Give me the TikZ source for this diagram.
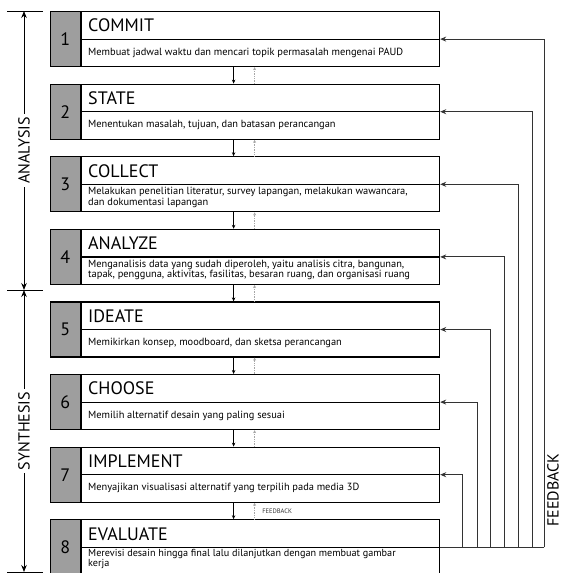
\documentclass[tikz,border=0pt]{standalone}
\usepackage{fontspec}
\setmainfont{PT Sans}
\usetikzlibrary{positioning, arrows.meta}
\tikzset{
  >={Stealth[length=6pt, width=5pt]},
  mainbox/.style={draw, line width=1.2pt, minimum width=358pt, minimum height=55pt, inner sep=0pt, anchor=north west},
  numbox/.style={draw, line width=1.2pt, fill=black!38, minimum width=30pt, minimum height=55pt, inner sep=0pt, font=\fontsize{18}{18}\selectfont},
  title/.style={anchor=west, inner sep=0pt, font=\fontsize{18}{18}\selectfont},
  desc/.style={anchor=west, inner sep=0pt, align=left, font=\fontsize{10.4}{10.5}\selectfont},
  sepline/.style={line width=1.2pt},
  down/.style={-{Stealth[length=4pt, width=3.5pt]}, line width=0.9pt},
  up/.style={-{Stealth[length=3pt, width=3pt]}, gray!70, densely dotted, line width=0.7pt},
  fbline/.style={line width=0.9pt, black!80},
  fbarrow/.style={->, line width=0.9pt, black!80},
  axis/.style={{Stealth[length=7pt, width=5.5pt]}-{Stealth[length=7pt, width=5.5pt]}, line width=0.9pt},
  axislabel/.style={fill=white, rotate=90, inner sep=3pt, font=\fontsize{16}{16}\selectfont},
}
\begin{document}
\begin{tikzpicture}[x=1pt, y=-1pt]
  \useasboundingbox (0,0) rectangle (563,573);

  % boxes
  \node[mainbox] (box1) at (81,11) {};
  \node[mainbox, below=16.4pt of box1] (box2) {};
  \node[mainbox, below=16.4pt of box2] (box3) {};
  \node[mainbox, below=16.4pt of box3] (box4) {};
  \node[mainbox, below=16.4pt of box4] (box5) {};
  \node[mainbox, below=16.4pt of box5] (box6) {};
  \node[mainbox, below=16.4pt of box6] (box7) {};
  \node[mainbox, below=16.4pt of box7] (box8) {};

  \node[numbox, left=0pt of box1] (num1) {1};
  \node[numbox, left=0pt of box2] (num2) {2};
  \node[numbox, left=0pt of box3] (num3) {3};
  \node[numbox, left=0pt of box4] (num4) {4};
  \node[numbox, left=0pt of box5] (num5) {5};
  \node[numbox, left=0pt of box6] (num6) {6};
  \node[numbox, left=0pt of box7] (num7) {7};
  \node[numbox, left=0pt of box8] (num8) {8};

  \draw[sepline] (box1.west) -- (box1.east);
  \draw[sepline] (box2.west) -- (box2.east);
  \draw[sepline] (box3.west) -- (box3.east);
  \draw[sepline] (box4.west) -- (box4.east);
  \draw[sepline] (box5.west) -- (box5.east);
  \draw[sepline] (box6.west) -- (box6.east);
  \draw[sepline] (box7.west) -- (box7.east);
  \draw[sepline] (box8.west) -- (box8.east);

  % titles
  \node[title, right=7pt of box1.west, yshift=13.5pt] (title1) {COMMIT};
  \node[title, right=7pt of box2.west, yshift=13.5pt] (title2) {STATE};
  \node[title, right=7pt of box3.west, yshift=13.5pt] (title3) {COLLECT};
  \node[title, right=7pt of box4.west, yshift=13.5pt] (title4) {ANALYZE};
  \node[title, right=7pt of box5.west, yshift=13.5pt] (title5) {IDEATE};
  \node[title, right=7pt of box6.west, yshift=13.5pt] (title6) {CHOOSE};
  \node[title, right=7pt of box7.west, yshift=13.5pt] (title7) {IMPLEMENT};
  \node[title, right=7pt of box8.west, yshift=13.5pt] (title8) {EVALUATE};

  % descriptions
  \node[desc, right=7pt of box1.west, yshift=-13.5pt] (desc1) {Membuat jadwal waktu dan mencari topik permasalah mengenai PAUD};
  \node[desc, right=7pt of box2.west, yshift=-13.5pt] (desc2) {Menentukan masalah, tujuan, dan batasan perancangan};
  \node[desc, below right=3pt and 7pt of box3.west] (desc3) {Melakukan penelitian literatur, survey lapangan, melakukan wawancara,\\dan dokumentasi lapangan};
  \node[desc, below right=3pt and 7pt of box4.west] (desc4) {Menganalisis data yang sudah diperoleh, yaitu analisis citra, bangunan,\\tapak, pengguna, aktivitas, fasilitas, besaran ruang, dan organisasi ruang};
  \node[desc, right=7pt of box5.west, yshift=-13.5pt] (desc5) {Memikirkan konsep, moodboard, dan sketsa perancangan};
  \node[desc, right=7pt of box6.west, yshift=-13.5pt] (desc6) {Memilih alternatif desain yang paling sesuai};
  \node[desc, right=7pt of box7.west, yshift=-13.5pt] (desc7) {Menyajikan visualisasi alternatif yang terpilih pada media 3D};
  \node[desc, below right=2pt and 7pt of box8.west, font=\fontsize{10.2}{9.8}\selectfont] (desc8) {Merevisi desain hingga final lalu dilanjutkan dengan membuat gambar\\kerja};

  % flow between boxes
  \draw[down] ([xshift=-27pt]box1.south) -- ([xshift=-27pt]box2.north);
  \draw[down] ([xshift=-27pt]box2.south) -- ([xshift=-27pt]box3.north);
  \draw[down] ([xshift=-27pt]box3.south) -- ([xshift=-27pt]box4.north);
  \draw[down] ([xshift=-27pt]box4.south) -- ([xshift=-27pt]box5.north);
  \draw[down] ([xshift=-27pt]box5.south) -- ([xshift=-27pt]box6.north);
  \draw[down] ([xshift=-27pt]box6.south) -- ([xshift=-27pt]box7.north);
  \draw[down] ([xshift=-27pt]box7.south) -- ([xshift=-27pt]box8.north);

  \draw[up] ([xshift=-6pt]box2.north) -- ([xshift=-6pt]box1.south);
  \draw[up] ([xshift=-6pt]box3.north) -- ([xshift=-6pt]box2.south);
  \draw[up] ([xshift=-6pt]box4.north) -- ([xshift=-6pt]box3.south);
  \draw[up] ([xshift=-6pt]box5.north) -- ([xshift=-6pt]box4.south);
  \draw[up] ([xshift=-6pt]box6.north) -- ([xshift=-6pt]box5.south);
  \draw[up] ([xshift=-6pt]box7.north) -- ([xshift=-6pt]box6.south);
  \draw[up] ([xshift=-6pt]box8.north) -- node[right=4pt, black!80, font=\fontsize{6.5}{6.5}\selectfont] (fbsmall) {FEEDBACK} ([xshift=-6pt]box7.south);

  % feedback loops
  \coordinate[right=104pt of box8.east] (fb1);
  \coordinate[right=92pt of box8.east] (fb2);
  \coordinate[right=78pt of box8.east] (fb3);
  \coordinate[right=64pt of box8.east] (fb4);
  \coordinate[right=50pt of box8.east] (fb5);
  \coordinate[right=37pt of box8.east] (fb6);
  \coordinate[right=22pt of box8.east] (fb7);

  \draw[fbline] (box8.east) -- (fb1);
  \draw[fbarrow] (fb1) |- (box1.east);
  \draw[fbarrow] (fb2) |- (box2.east);
  \draw[fbarrow] (fb3) |- (box3.east);
  \draw[fbarrow] (fb4) |- (box4.east);
  \draw[fbarrow] (fb5) |- (box5.east);
  \draw[fbarrow] (fb6) |- (box6.east);
  \draw[fbarrow] (fb7) |- (box7.east);

  \node[rotate=90, inner sep=0pt, font=\fontsize{16}{16}\selectfont] (fbtext) at (553,490) {FEEDBACK};

  % phases
  \coordinate (a1) at (24,11);
  \coordinate (a2) at (24,290);
  \coordinate (a3) at (24,572);
  \draw[line width=0.9pt] ([xshift=-17pt]a1) -- ([xshift=19pt]a1);
  \draw[line width=0.9pt] ([xshift=-17pt]a2) -- ([xshift=19pt]a2);
  \draw[line width=0.9pt] ([xshift=-17pt]a3) -- ([xshift=19pt]a3);
  \draw[axis] (a1) -- node[axislabel] (analysis) {ANALYSIS} (a2);
  \draw[axis] (a2) -- node[axislabel] (synthesis) {SYNTHESIS} (a3);
\end{tikzpicture}
\end{document}
